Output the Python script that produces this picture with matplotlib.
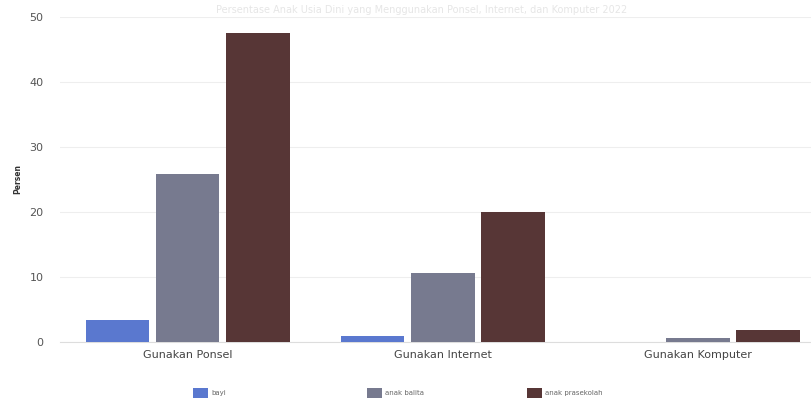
import matplotlib
matplotlib.use("Agg")
import matplotlib.pyplot as plt
import numpy as np

categories = ["Gunakan Ponsel", "Gunakan Internet", "Gunakan Komputer"]
series_names = ["bayi", "anak balita", "anak prasekolah"]
bayi = [3.4, 0.9, 0.0]
anak_balita = [25.8, 10.6, 0.6]
anak_prasekolah = [47.5, 20.0, 1.9]
yticks = [0, 10, 20, 30, 40, 50]
colors = ["#5a78cf", "#777a8f", "#573636"]
title = "Persentase Anak Usia Dini yang Menggunakan Ponsel, Internet, dan Komputer 2022"

fig = plt.figure(figsize=(8.11, 4.05), dpi=100)
ax = fig.add_axes([60/811, 1 - 342/405, 1 - 60/811, (342 - 17)/405])

x = np.arange(len(categories))
width = 0.25
step = 0.275
handles = []
for i, (vals, name) in enumerate(zip([bayi, anak_balita, anak_prasekolah], series_names)):
    b = ax.bar(x + (i - 1) * step, vals, width, color=colors[i], label=name, zorder=3)
    handles.append(b)

ax.set_ylim(0, 50)
ax.set_xlim(-0.5, 2.5 - 14.5/255)
ax.set_yticks(yticks)
ax.set_xticks(x)
ax.set_xticklabels(categories, fontsize=8, color="#444444")
ax.tick_params(axis="y", labelsize=8, colors="#555555", length=0, pad=12)
ax.tick_params(axis="x", length=0, pad=6)
ax.grid(axis="y", color="#eeeeee", linewidth=0.8, zorder=0)
for s in ["top", "right", "left"]:
    ax.spines[s].set_visible(False)
ax.spines["bottom"].set_color("#dddddd")
ax.set_ylabel("Persen", fontsize=5.5, fontweight="bold", color="#333333", labelpad=5)

fig.text(0.52, 0.975, title, ha="center", va="center", fontsize=7, color="#e6e6e6")

leg_x = [193/811, 367/811, 527/811]
for h, name, lx in zip(handles, series_names, leg_x):
    leg = fig.legend([h], [name], loc="center left", bbox_to_anchor=(lx, 0.03),
                     frameon=False, fontsize=5, handlelength=2.1, handleheight=1.7,
                     handletextpad=0.5, borderaxespad=0, borderpad=0)
    for t in leg.get_texts():
        t.set_color("#666666")

fig.savefig("out.png", dpi=100)
